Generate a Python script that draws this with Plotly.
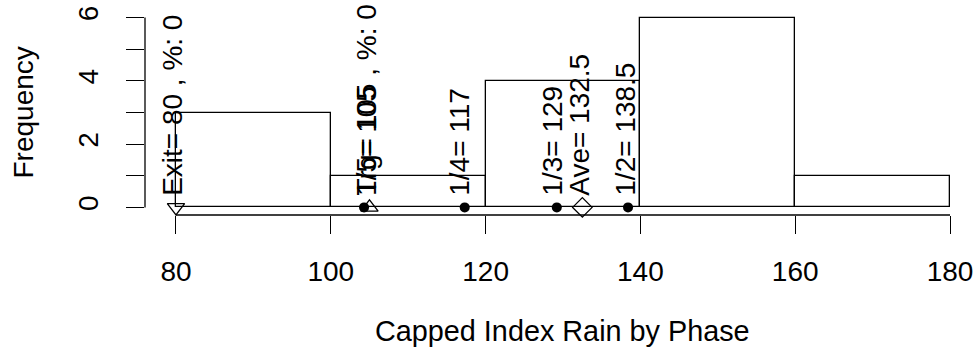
import plotly.graph_objects as go

# ---- data ----
bin_left = [80, 100, 120, 140, 160]
bin_width = 20
counts = [3, 1, 4, 6, 1]

x_ticks = [80, 100, 120, 140, 160, 180]
y_ticks = [0, 1, 2, 3, 4, 5, 6]
y_ticktext = ["0", "", "2", "", "4", "", "6"]

exit_val = 80
trig_val = 105
quant_names = ["1/5", "1/4", "1/3", "1/2"]
quant_vals = [104.3, 117.3, 129.2, 138.4]        # point positions
quant_shown = [105, 117, 129, 138.5]              # values printed in labels
ave_val = 132.5

exit_pct = 0
trig_pct = 0

x_title = "Capped Index Rain by Phase"
y_title = "Frequency"

FONT = "Liberation Sans, Arial, sans-serif"
FS = 28

fig = go.Figure()

centers = [b + bin_width / 2 for b in bin_left]
fig.add_trace(go.Bar(
    x=centers, y=counts, width=bin_width, base=0,
    marker=dict(color="white", line=dict(color="black", width=1.3)),
    showlegend=False, hoverinfo="skip",
))

# markers
fig.add_trace(go.Scatter(
    x=[exit_val], y=[0], mode="markers",
    marker=dict(symbol="triangle-down-open", size=15, color="black", line=dict(width=1.3)),
    showlegend=False, cliponaxis=False))
fig.add_trace(go.Scatter(
    x=[trig_val], y=[0], mode="markers",
    marker=dict(symbol="triangle-up-open", size=15, color="black", line=dict(width=1.3)),
    showlegend=False, cliponaxis=False))
fig.add_trace(go.Scatter(
    x=quant_vals, y=[0] * len(quant_vals), mode="markers",
    marker=dict(symbol="circle", size=10, color="black"),
    showlegend=False, cliponaxis=False))
fig.add_trace(go.Scatter(
    x=[ave_val], y=[0], mode="markers",
    marker=dict(symbol="diamond-open", size=15, color="black", line=dict(width=1.3)),
    showlegend=False, cliponaxis=False))

# rotated labels
def lab(x, t):
    fig.add_annotation(x=x, y=0, xref="x", yref="y", text=t, textangle=-90,
                       showarrow=False, xanchor="center", yanchor="bottom",
                       yshift=10, xshift=-3,
                       font=dict(family=FONT, size=FS, color="black"))

lab(exit_val, f"Exit= {exit_val} , %: {exit_pct}")
lab(trig_val, f"Trg= {trig_val} , %: {trig_pct}")
for n, v in zip(quant_names, quant_shown):
    lab(v, f"{n}= {v}")
lab(ave_val, f"Ave= {ave_val}")

# axis lines (R style: from first to last tick)
fig.add_shape(type="line", xref="x", yref="paper", x0=x_ticks[0], x1=x_ticks[-1],
              y0=0, y1=0, line=dict(color="black", width=1.3))
fig.add_shape(type="line", xref="paper", yref="y", x0=0, x1=0,
              y0=y_ticks[0], y1=y_ticks[-1], line=dict(color="black", width=1.3))

# axis titles
fig.add_annotation(x=0.5, y=0, xref="paper", yref="paper", text=x_title,
                   showarrow=False, yanchor="middle", yshift=-116,
                   font=dict(family=FONT, size=28.8, color="black"))
fig.add_annotation(x=0, y=0.5, xref="paper", yref="paper", text=y_title,
                   textangle=-90, showarrow=False, xanchor="center", xshift=-122,
                   font=dict(family=FONT, size=FS, color="black"))

fig.update_layout(
    width=980, height=358,
    margin=dict(l=145, r=0, t=10.44, b=143.44),
    paper_bgcolor="white", plot_bgcolor="white",
    font=dict(family=FONT, size=FS, color="black"),
    xaxis=dict(range=[76, 183.87], tickvals=x_ticks, ticks="outside", ticklen=18,
               tickwidth=1.3, tickcolor="black", showgrid=False, zeroline=False,
               showline=False, ticklabelstandoff=13),
    yaxis=dict(range=[-0.24, 6.24], tickvals=y_ticks, ticktext=y_ticktext,
               ticks="outside", ticklen=18, tickwidth=1.3, tickcolor="black",
               showgrid=False, zeroline=False, showline=False, tickangle=-90,
               ticklabelstandoff=17),
    bargap=0,
)

fig.write_html("out.html", config={"displayModeBar": False},
               post_script="document.body.style.margin='0';document.body.style.overflow='hidden';")
